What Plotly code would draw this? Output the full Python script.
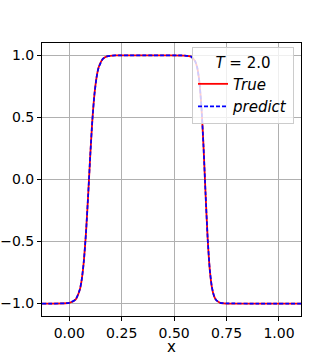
import plotly.graph_objects as go

# values
x_vals = [-0.13, 0.0, 0.03, 0.05, 0.06, 0.07, 0.08, 0.09, 0.10, 0.11, 0.12, 0.13,
          0.14, 0.16, 0.18, 0.22, 0.40, 0.55, 0.58, 0.60, 0.61, 0.62, 0.63, 0.64,
          0.65, 0.66, 0.67, 0.68, 0.69, 0.70, 0.72, 0.75, 0.90, 1.105]
y_true = [-1.0, -0.995, -0.968, -0.889, -0.800, -0.649, -0.423, -0.128, 0.191, 0.475,
          0.685, 0.821, 0.902, 0.972, 0.992, 1.0, 1.0, 0.999, 0.991, 0.954, 0.902,
          0.793, 0.592, 0.273, -0.119, -0.478, -0.726, -0.867, -0.938, -0.971,
          -0.994, -1.0, -1.0, -1.0]
y_pred = [-1.0, -0.994, -0.967, -0.889, -0.800, -0.650, -0.424, -0.129, 0.190, 0.475,
          0.685, 0.821, 0.902, 0.972, 0.992, 1.0, 1.0, 0.999, 0.991, 0.954, 0.902,
          0.793, 0.592, 0.272, -0.120, -0.478, -0.726, -0.867, -0.937, -0.971,
          -0.994, -0.998, -1.0, -1.0]

x_ticks = [0.0, 0.25, 0.5, 0.75, 1.0]
x_labels = ["0.00", "0.25", "0.50", "0.75", "1.00"]
y_ticks = [-1.0, -0.5, 0.0, 0.5, 1.0]
y_labels = ["\u22121.0", "\u22120.5", "0.0", "0.5", "1.0"]

fig = go.Figure()
fig.add_trace(go.Scatter(
    x=x_vals, y=y_true, mode="lines", name="<i>True</i>",
    line=dict(color="rgb(255,0,0)", width=1.8, shape="spline", smoothing=0.5),
))
fig.add_trace(go.Scatter(
    x=x_vals, y=y_pred, mode="lines", name="<i>predict</i>",
    line=dict(color="rgb(0,0,255)", width=1.7, dash="4px,2px", shape="spline", smoothing=0.5),
))

axis_common = dict(
    showline=True, linecolor="black", linewidth=1, mirror=True,
    showgrid=True, gridcolor="#b0b0b0", gridwidth=1,
    ticks="outside", ticklen=4, tickcolor="black",
    zeroline=False, tickfont=dict(size=14, color="black"),
    automargin=False,
)

fig.update_layout(
    width=335, height=355,
    paper_bgcolor="white", plot_bgcolor="white",
    font=dict(family="DejaVu Sans", color="black"),
    margin=dict(l=42, r=34, t=43, b=39),
    xaxis=dict(range=[-0.13, 1.105], tickvals=x_ticks, ticktext=x_labels, **axis_common),
    yaxis=dict(range=[-1.1, 1.1], tickvals=y_ticks, ticktext=y_labels, **axis_common),
    legend=dict(
        x=0.973, y=0.985, xanchor="right", yanchor="top",
        bgcolor="rgba(255,255,255,0.8)", bordercolor="#cccccc", borderwidth=1,
        font=dict(size=15), itemwidth=30, tracegroupgap=0,
        title=dict(text="<i>T</i> = 2.0", side="top center", font=dict(size=15)),
    ),
    showlegend=True,
)
# x-axis label placed below the tick labels
fig.add_annotation(text="x", xref="paper", yref="paper", x=0.5, y=-0.112,
                   xanchor="center", yanchor="middle", showarrow=False,
                   borderpad=0, font=dict(size=15))
# drop the page's default body margin so the figure sits at the window corner
fig.write_html("out.html", config={"displayModeBar": False},
               post_script="document.body.style.margin='0';")
